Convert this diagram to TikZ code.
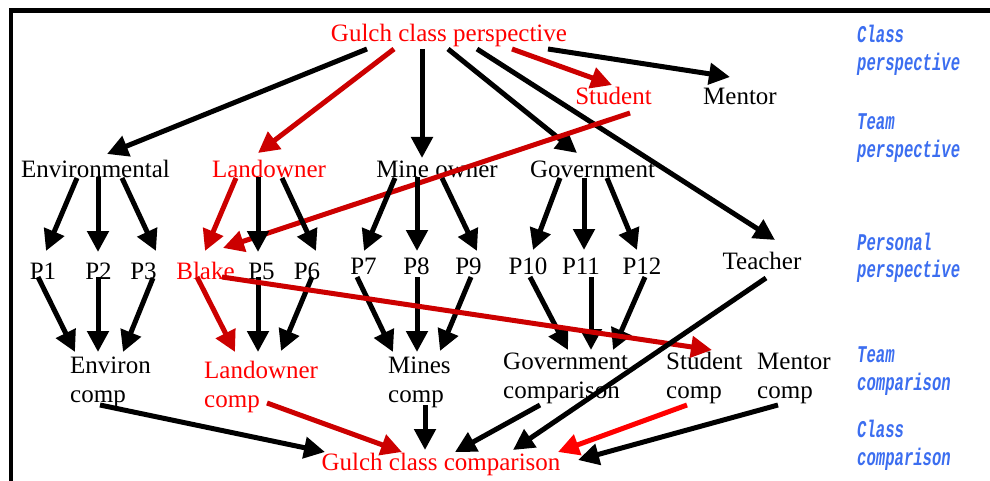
\documentclass[tikz,border=0pt]{standalone}
\usepackage{fontspec}
\usepackage{graphicx}
\setmainfont{Liberation Serif}
\newfontfamily\labfont{Liberation Mono}
\usetikzlibrary{arrows.meta}
\definecolor{txtred}{RGB}{255,0,0}
\definecolor{arrred}{RGB}{204,0,0}
\definecolor{labblue}{RGB}{60,110,240}
\begin{document}
\begin{tikzpicture}[x=1pt,y=-1pt,
  lbl/.style={inner sep=0pt, anchor=base, font=\fontsize{25}{29}\selectfont},
  ml/.style={inner sep=0pt, anchor=base west, font=\fontsize{25}{29}\selectfont},
  redtxt/.style={text=txtred},
  arr/.style={line width=5pt, -{Triangle[length=21pt,width=21pt]}},
  redarr/.style={arr, color=arrred},
  brightarr/.style={arr, color=txtred},
  side/.style={inner sep=0pt, anchor=base west, text=labblue, font=\labfont\bfseries\itshape\fontsize{24}{28}\selectfont}]
\useasboundingbox (0,0) rectangle (990,481);
% frame
\draw[line width=4.3pt] (990,10.5) -- (11.3,10.5) -- (11.3,481);
% side labels
\node[side] (s1) at (857,43) {\scalebox{0.65}[1]{\begin{tabular}[t]{@{}l@{}}Class\\perspective\end{tabular}}};
\node[side] (s2) at (857,130) {\scalebox{0.65}[1]{\begin{tabular}[t]{@{}l@{}}Team\\perspective\end{tabular}}};
\node[side] (s3) at (857,250) {\scalebox{0.65}[1]{\begin{tabular}[t]{@{}l@{}}Personal\\perspective\end{tabular}}};
\node[side] (s4) at (857,362) {\scalebox{0.65}[1]{\begin{tabular}[t]{@{}l@{}}Team\\comparison\end{tabular}}};
\node[side] (s5) at (857,437) {\scalebox{0.65}[1]{\begin{tabular}[t]{@{}l@{}}Class\\comparison\end{tabular}}};
% nodes
\node[lbl,redtxt] (gulch) at (449,42) {Gulch class perspective};
\node[lbl,redtxt] (student) at (613.5,105) {Student};
\node[lbl] (mentor) at (740,105) {Mentor};
\node[lbl] (env) at (95.5,178) {Environmental};
\node[lbl,redtxt] (land) at (269,178) {Landowner};
\node[lbl] (mine) at (437,178) {Mine owner};
\node[lbl] (gov) at (592.5,178) {Government};
\node[lbl] (p1) at (43,279) {P1};
\node[lbl] (p2) at (98.5,279) {P2};
\node[lbl] (p3) at (143.5,279) {P3};
\node[lbl,redtxt] (blake) at (205.5,279) {Blake};
\node[lbl] (p5) at (261.5,279) {P5};
\node[lbl] (p6) at (307,279) {P6};
\node[lbl] (p7) at (363.5,274) {P7};
\node[lbl] (p8) at (416.5,274) {P8};
\node[lbl] (p9) at (468.5,274) {P9};
\node[lbl] (p10) at (528,274) {P10};
\node[lbl] (p11) at (581,274) {P11};
\node[lbl] (p12) at (642,274) {P12};
\node[lbl] (teacher) at (762,269) {Teacher};
\node[ml] (envc) at (70,373) {\begin{tabular}[t]{@{}l@{}}Environ\\comp\end{tabular}};
\node[ml,redtxt] (landc) at (204,378) {\begin{tabular}[t]{@{}l@{}}Landowner\\comp\end{tabular}};
\node[ml] (minesc) at (388,373) {\begin{tabular}[t]{@{}l@{}}Mines\\comp\end{tabular}};
\node[ml] (govc) at (503,369) {\begin{tabular}[t]{@{}l@{}}Government\\comparison\end{tabular}};
\node[ml] (studc) at (666,369) {\begin{tabular}[t]{@{}l@{}}Student\\comp\end{tabular}};
\node[ml] (mentc) at (757,369) {\begin{tabular}[t]{@{}l@{}}Mentor\\comp\end{tabular}};
\node[lbl,redtxt] (gulchc) at (441,470) {Gulch class comparison};
% class -> team
\draw[arr] ([shift={(-82,7)}]gulch.base) -- ([shift={(11.5,-24)}]env.base);
\draw[redarr] ([shift={(-55,7)}]gulch.base) -- ([shift={(-11,-25)}]land.base);
\draw[arr] ([shift={(-27,7)}]gulch.base) -- ([shift={(-15,-20)}]mine.base);
\draw[arr] ([shift={(-1,7)}]gulch.base) -- ([shift={(-15.5,-25)}]gov.base);
\draw[arr] ([shift={(28,7)}]gulch.base) -- ([shift={(13,-29)}]teacher.base);
\draw[redarr] ([shift={(63,7)}]gulch.base) -- ([shift={(-1.5,-20)}]student.base);
\draw[arr] ([shift={(99,7)}]gulch.base) -- ([shift={(-10,-28)}]mentor.base);
\draw[redarr] ([shift={(16.5,8)}]student.base) -- ([shift={(17.5,-31)}]blake.base);
% team -> personal
\draw[arr] ([shift={(-18.5,0)}]env.base) -- ([shift={(3,-28)}]p1.base);
\draw[arr] ([shift={(2.5,-1)}]env.base) -- ([shift={(-0.5,-27)}]p2.base);
\draw[arr] ([shift={(26.5,0)}]env.base) -- ([shift={(12.5,-28)}]p3.base);
\draw[redarr] ([shift={(-33,0)}]land.base) -- ([shift={(-0.5,-28)}]blake.base);
\draw[arr] ([shift={(-11,-1)}]land.base) -- ([shift={(-3.5,-27)}]p5.base);
\draw[arr] ([shift={(13,0)}]land.base) -- ([shift={(9,-28)}]p6.base);
\draw[arr] ([shift={(-42,0)}]mine.base) -- ([shift={(0.5,-23)}]p7.base);
\draw[arr] ([shift={(-20,-1)}]mine.base) -- ([shift={(0.5,-23)}]p8.base);
\draw[arr] ([shift={(5,0)}]mine.base) -- ([shift={(8.5,-23)}]p9.base);
\draw[arr] ([shift={(-32.5,0)}]gov.base) -- ([shift={(5,-24)}]p10.base);
\draw[arr] ([shift={(-8.5,0)}]gov.base) -- ([shift={(3,-24)}]p11.base);
\draw[arr] ([shift={(14.5,0)}]gov.base) -- ([shift={(-5,-24)}]p12.base);
% personal -> team comparison
\draw[arr] ([shift={(-5,-2)}]p1.base) -- ([shift={(5,-21)}]envc.base west);
\draw[arr] ([shift={(-0.5,-2)}]p2.base) -- ([shift={(28,-21)}]envc.base west);
\draw[arr] ([shift={(9.5,-1)}]p3.base) -- ([shift={(53,-21)}]envc.base west);
\draw[redarr] ([shift={(-8.5,-2)}]blake.base) -- ([shift={(31,-26)}]landc.base west);
\draw[arr] ([shift={(-3.5,-2)}]p5.base) -- ([shift={(54,-26)}]landc.base west);
\draw[arr] ([shift={(5,-2)}]p6.base) -- ([shift={(77,-27)}]landc.base west);
\draw[arr] ([shift={(-6.5,3)}]p7.base) -- ([shift={(5,-21)}]minesc.base west);
\draw[arr] ([shift={(0.5,3)}]p8.base) -- ([shift={(29,-21)}]minesc.base west);
\draw[arr] ([shift={(2.5,3)}]p9.base) -- ([shift={(52,-22)}]minesc.base west);
\draw[arr] ([shift={(2,3)}]p10.base) -- ([shift={(65,-19)}]govc.base west);
\draw[arr] ([shift={(10,3)}]p11.base) -- ([shift={(88,-19)}]govc.base west);
\draw[arr] ([shift={(3,3)}]p12.base) -- ([shift={(110,-19)}]govc.base west);
\draw[redarr] ([shift={(16.5,-2)}]blake.base) -- ([shift={(46,-19)}]studc.base west);
% -> class comparison
\draw[arr] ([shift={(4,9)}]teacher.base) -- ([shift={(72,-20)}]gulchc.base);
\draw[arr] ([shift={(30,32)}]envc.base west) -- ([shift={(-116,-18)}]gulchc.base);
\draw[redarr] ([shift={(63,25)}]landc.base west) -- ([shift={(-39,-18)}]gulchc.base);
\draw[arr] ([shift={(37,32)}]minesc.base west) -- ([shift={(-16,-20)}]gulchc.base);
\draw[arr] ([shift={(37,36)}]govc.base west) -- ([shift={(14,-18)}]gulchc.base);
\draw[brightarr] ([shift={(21,36)}]studc.base west) -- ([shift={(117,-18)}]gulchc.base);
\draw[arr] ([shift={(21,36)}]mentc.base west) -- ([shift={(137,-10)}]gulchc.base);
\end{tikzpicture}
\end{document}
